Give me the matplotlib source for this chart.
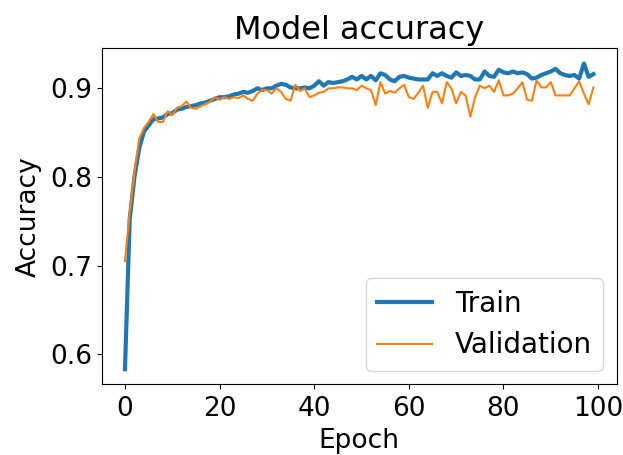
import numpy as np
import matplotlib
matplotlib.use('Agg')
import matplotlib.pyplot as plt

# accuracy per epoch
train_acc = [
    0.583, 0.752, 0.800, 0.832, 0.851, 0.858, 0.865, 0.866, 0.867, 0.871,
    0.872, 0.876, 0.877, 0.879, 0.880, 0.881, 0.883, 0.884, 0.886, 0.888,
    0.890, 0.890, 0.891, 0.893, 0.894, 0.896, 0.895, 0.897, 0.900, 0.898,
    0.900, 0.900, 0.903, 0.905, 0.904, 0.901, 0.900, 0.900, 0.901, 0.900,
    0.903, 0.908, 0.903, 0.907, 0.906, 0.907, 0.908, 0.910, 0.913, 0.910,
    0.914, 0.910, 0.914, 0.909, 0.917, 0.915, 0.910, 0.908, 0.913, 0.914,
    0.912, 0.911, 0.910, 0.910, 0.910, 0.917, 0.914, 0.917, 0.914, 0.912,
    0.918, 0.914, 0.915, 0.914, 0.910, 0.910, 0.919, 0.914, 0.913, 0.921,
    0.918, 0.917, 0.919, 0.917, 0.918, 0.916, 0.911, 0.912, 0.915, 0.917,
    0.919, 0.922, 0.917, 0.915, 0.914, 0.915, 0.911, 0.928, 0.913, 0.916,
]
val_acc = [
    0.705, 0.760, 0.805, 0.843, 0.855, 0.862, 0.871, 0.862, 0.862, 0.874,
    0.870, 0.878, 0.880, 0.885, 0.878, 0.877, 0.880, 0.882, 0.885, 0.890,
    0.887, 0.890, 0.888, 0.890, 0.889, 0.892, 0.888, 0.886, 0.894, 0.898,
    0.898, 0.894, 0.900, 0.896, 0.888, 0.886, 0.904, 0.897, 0.900, 0.890,
    0.892, 0.895, 0.896, 0.900, 0.900, 0.901, 0.901, 0.900, 0.900, 0.898,
    0.903, 0.900, 0.898, 0.881, 0.907, 0.894, 0.897, 0.895, 0.900, 0.904,
    0.890, 0.888, 0.895, 0.903, 0.878, 0.896, 0.896, 0.883, 0.907, 0.900,
    0.883, 0.896, 0.892, 0.868, 0.890, 0.903, 0.900, 0.903, 0.896, 0.909,
    0.892, 0.892, 0.894, 0.900, 0.907, 0.887, 0.886, 0.909, 0.901, 0.901,
    0.907, 0.892, 0.892, 0.892, 0.892, 0.900, 0.908, 0.894, 0.882, 0.901,
]
epochs = np.arange(len(train_acc))

plt.rcParams['font.size'] = 19

fig = plt.figure(figsize=(6.23, 4.55), dpi=100)
ax = fig.add_axes([0.163, 0.155, 0.827, 0.739])

ax.plot(epochs, train_acc, color='tab:blue', lw=3, label='Train')
ax.plot(epochs, val_acc, color='tab:orange', lw=1.5, label='Validation')

ax.set_title('Model accuracy', fontsize=23, pad=7)
ax.set_ylabel('Accuracy', labelpad=6)
ax.set_xlabel('Epoch', labelpad=4)
ax.tick_params(axis='x', pad=5)
ax.legend(loc='lower right', fontsize=20)

fig.savefig('out.png', dpi=100)
